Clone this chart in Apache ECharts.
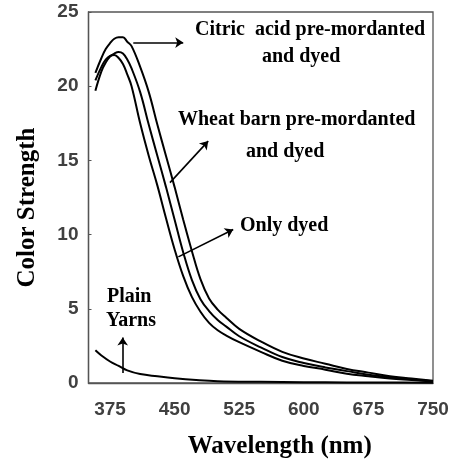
<!DOCTYPE html>
<html><head><meta charset="utf-8">
<script src="https://cdn.jsdelivr.net/npm/echarts@6/dist/echarts.min.js"></script>
<style>html,body{margin:0;padding:0;background:#fff}#c{width:455px;height:464px}</style>
</head><body><div id="c"></div>
<script>
const wavelengths = [358,365,370,375,380,385,390,395,400,410,420,430,440,450,460,470,480,490,500,510,525,550,575,600,625,650,675,700,725,750];
const citric = [20.9,21.9,22.5,22.9,23.2,23.3,23.3,23.0,22.7,21.3,19.6,17.4,15.3,13.2,11.0,8.9,7.0,5.7,4.95,4.4,3.65,2.8,2.1,1.65,1.3,0.95,0.7,0.45,0.3,0.15];
const wheat = [19.7,21.0,21.6,22.0,22.2,22.3,22.2,21.8,21.2,19.6,17.4,15.3,13.2,11.0,8.8,6.95,5.65,4.85,4.25,3.8,3.15,2.4,1.75,1.35,1.05,0.8,0.55,0.38,0.25,0.12];
const onlyDyed = [20.4,21.3,21.8,22.05,22.1,21.9,21.5,20.8,20.0,17.5,15.3,13.3,11.1,9.0,7.2,5.8,4.8,4.05,3.55,3.2,2.75,2.1,1.5,1.15,0.9,0.62,0.45,0.3,0.2,0.1];
const plainWl = [358,365,375,385,395,410,430,450,475,500,550,600,650,700,750];
const plain = [2.2,1.85,1.45,1.15,0.85,0.6,0.45,0.32,0.2,0.12,0.08,0.05,0.04,0.03,0.02];
const xTickLabels = [375,450,525,600,675,750];
const yTickLabels = [0,5,10,15,20,25];

const pair = (xs, ys) => xs.map((x,i)=>[x, ys[i]]);
const lineStyle = {color:'#000', width:2};
const arrowLine = (a, b) => ({
  silent:true, symbol:['none','arrow'], symbolSize:8,
  lineStyle:{color:'#000', width:1.6, type:'solid'},
  label:{show:false},
  data:[[{coord:a},{coord:b}]]
});
const serif = '"Liberation Serif","Times New Roman",serif';
const sans = '"Liberation Sans",Arial,sans-serif';
const annText = (x,y,t) => ({type:'text', x:x, y:y, style:{text:t, font:'bold 20px '+serif, fill:'#000', textAlign:'left', textVerticalAlign:'middle'}});

const chart = echarts.init(document.getElementById('c'));
chart.setOption({
  animation:false,
  grid:{left:88.5, right:22, top:12, bottom:79, show:true, borderColor:'#555', borderWidth:1.3},
  xAxis:{type:'value', min:350, max:750, interval:25,
    axisLine:{lineStyle:{color:'#555', width:1.3}}, axisTick:{show:false}, splitLine:{show:false},
    axisLabel:{margin:17, color:'#404040', fontWeight:'bold', fontSize:19, fontFamily:sans,
      formatter:v => xTickLabels.includes(v) ? String(v) : ''},
    name:'Wavelength (nm)', nameLocation:'middle', nameGap:51,
    nameTextStyle:{fontFamily:serif, fontWeight:'bold', fontSize:25, color:'#000', padding:[0,0,0,38]}},
  yAxis:{type:'value', min:0, max:25, interval:5,
    axisLine:{show:true, lineStyle:{color:'#555', width:1.3}},
    axisTick:{show:true, inside:true, length:3, lineStyle:{color:'#555'}}, splitLine:{show:false},
    axisLabel:{margin:10, color:'#404040', fontWeight:'bold', fontSize:19, fontFamily:sans,
      formatter:v => yTickLabels.includes(v) ? String(v) : ''},
    name:'Color Strength', nameLocation:'middle', nameGap:48,
    nameTextStyle:{fontFamily:serif, fontWeight:'bold', fontSize:25, color:'#000', padding:[0,20,0,0]}},
  series:[
    {type:'line', name:'Citric acid pre-mordanted and dyed', data:pair(wavelengths,citric), smooth:0.4, showSymbol:false, lineStyle,
      markLine:arrowLine([402,22.94],[460,22.94])},
    {type:'line', name:'Wheat barn pre-mordanted and dyed', data:pair(wavelengths,wheat), smooth:0.4, showSymbol:false, lineStyle,
      markLine:arrowLine([444.6,13.5],[489,16.3])},
    {type:'line', name:'Only dyed', data:pair(wavelengths,onlyDyed), smooth:0.4, showSymbol:false, lineStyle,
      markLine:arrowLine([454.3,8.5],[518,10.34])},
    {type:'line', name:'Plain Yarns', data:pair(plainWl,plain), smooth:0.4, showSymbol:false, lineStyle,
      markLine:arrowLine([389.7,0.67],[389.7,3.06])}
  ],
  graphic:[
    annText(195,30,'Citric  acid pre-mordanted'),
    annText(262,57,'and dyed'),
    annText(178,120,'Wheat barn pre-mordanted'),
    annText(246,152,'and dyed'),
    annText(240,226,'Only dyed'),
    annText(107,297,'Plain'),
    annText(106,321,'Yarns')
  ]
});
</script></body></html>
